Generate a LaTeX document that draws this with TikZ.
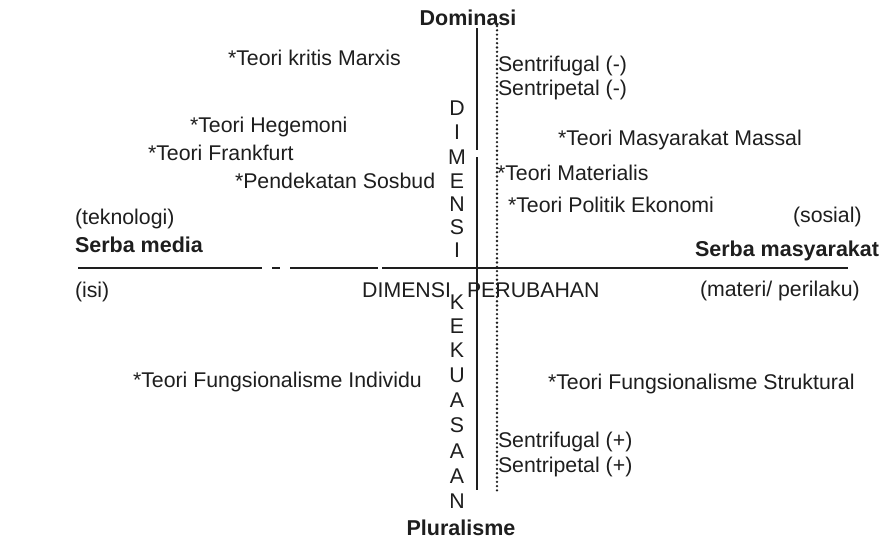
\documentclass[tikz,border=0pt]{standalone}
\usepackage{fontspec}
\setmainfont{Liberation Sans}
\definecolor{ink}{HTML}{1E1E1E}
\begin{document}
\begin{tikzpicture}[x=1pt,y=-1pt,
  every node/.style={inner sep=0pt,outer sep=0pt,text=ink,font=\fontsize{21.3}{25}\selectfont},
  lbl/.style={anchor=base west},
  boldtxt/.style={font=\fontsize{21.5}{25}\selectfont\bfseries},
  lblb/.style={anchor=base west,boldtxt},
  letter/.style={anchor=center},
  axis/.style={draw=ink,line width=1.4pt},
  dotaxis/.style={draw=ink,line width=2.6pt,line cap=round,dash pattern=on 0pt off 4.3pt}]
\useasboundingbox[fill=white] (0,0) rectangle (881,542);

% axes
\coordinate (h1a) at (78,268); \coordinate (h1b) at (262,268);
\coordinate (h2a) at (272,268); \coordinate (h2b) at (280,268);
\coordinate (h3a) at (290,268); \coordinate (h3b) at (378,268);
\coordinate (h4a) at (382,268); \coordinate (h4b) at (848,268);
\draw[axis] (h1a) -- (h1b);
\draw[axis] (h2a) -- (h2b);
\draw[axis] (h3a) -- (h3b);
\draw[axis] (h4a) -- (h4b);
\coordinate (v1a) at (477,28); \coordinate (v1b) at (477,150);
\coordinate (v2a) at (477,157); \coordinate (v2b) at (477,490);
\draw[axis] (v1a) -- (v1b);
\draw[axis] (v2a) -- (v2b);
\coordinate (da) at (497,26); \coordinate (db) at (497,492);
\draw[dotaxis] (da) -- (db);

% poles
\node[anchor=center,boldtxt] (dom) at (468,18) {Dominasi};
\node[anchor=base,boldtxt] (plu) at (461,535) {Pluralisme};
\node[lblb] (smedia) at (75,252) {Serba media};
\node[lblb] (smasy) at (695,256) {Serba masyarakat};
\node[lbl] (tek) at (75,224) {(teknologi)};
\node[lbl] (isi) at (75,297) {(isi)};
\node[lbl] (sos) at (793,222) {(sosial)};
\node[lbl] (mat) at (700,296) {(materi/ perilaku)};

% dimensi perubahan
\node[anchor=base east] (dimh) at (451,297) {DIMENSI};
\node[anchor=base west] (perub) at (467,297) {PERUBAHAN};

% vertical letters
\node[letter] (l1) at (457,108) {D};
\node[letter] (l2) at (457,132) {I};
\node[letter] (l3) at (457,157) {M};
\node[letter] (l4) at (457,181) {E};
\node[letter] (l5) at (457,204) {N};
\node[letter] (l6) at (457,227) {S};
\node[letter] (l7) at (457,250) {I};
\node[letter] (k1) at (457,302) {K};
\node[letter] (k2) at (457,326) {E};
\node[letter] (k3) at (457,350) {K};
\node[letter] (k4) at (457,375) {U};
\node[letter] (k5) at (457,400) {A};
\node[letter] (k6) at (457,425) {S};
\node[letter] (k7) at (457,451) {A};
\node[letter] (k8) at (457,476) {A};
\node[letter] (k9) at (457,501) {N};

% sentrifugal / sentripetal
\node[lbl] (sfm) at (498,71) {Sentrifugal (-)};
\node[lbl] (spm) at (498,95) {Sentripetal (-)};
\node[lbl] (sfp) at (498,447) {Sentrifugal (+)};
\node[lbl] (spp) at (498,472) {Sentripetal (+)};

% theories
\node[lbl] (t1) at (228,65) {*Teori kritis Marxis};
\node[lbl] (t2) at (190,132) {*Teori Hegemoni};
\node[lbl] (t3) at (148,160) {*Teori Frankfurt};
\node[lbl] (t4) at (235,188) {*Pendekatan Sosbud};
\node[lbl] (t5) at (558,145) {*Teori Masyarakat Massal};
\node[lbl] (t6) at (497,180) {*Teori Materialis};
\node[lbl] (t7) at (508,212) {*Teori Politik Ekonomi};
\node[lbl] (t8) at (133,387) {*Teori Fungsionalisme Individu};
\node[lbl] (t9) at (548,389) {*Teori Fungsionalisme Struktural};
\end{tikzpicture}
\end{document}
